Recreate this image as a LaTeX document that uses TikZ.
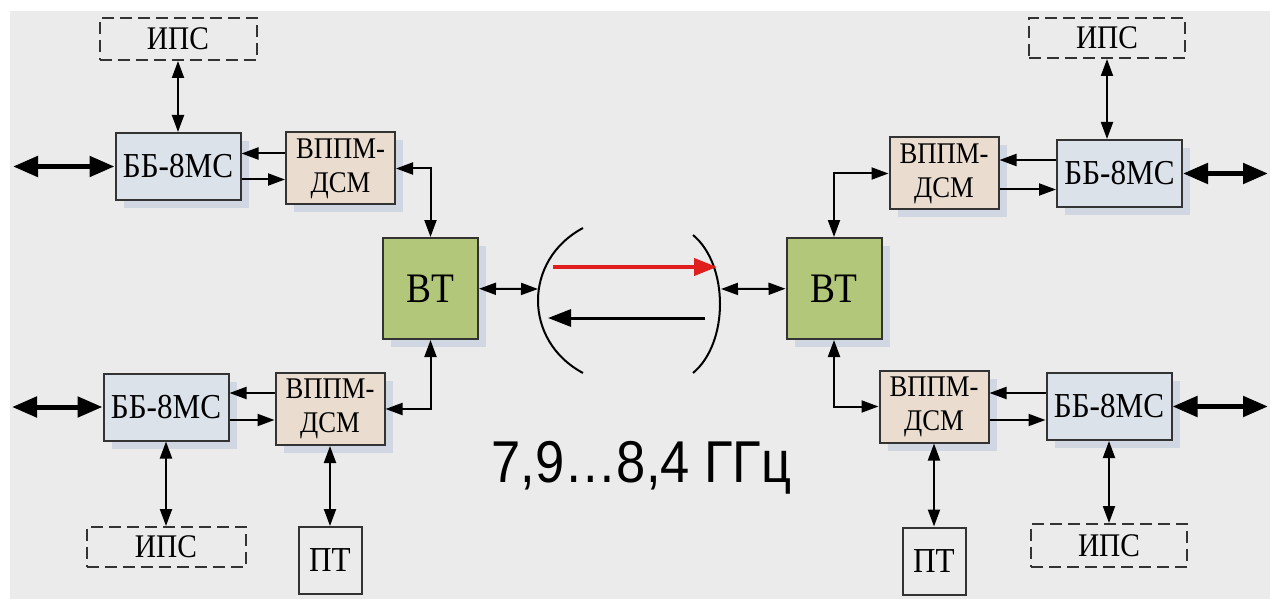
\documentclass[tikz,border=0pt]{standalone}
\usepackage{fontspec}
\usepackage{graphicx}
\setmainfont{Liberation Serif}
\newfontfamily\freqfont{Liberation Sans}
\usetikzlibrary{arrows.meta, positioning, shadows}

\definecolor{bggray}{HTML}{EBEBEB}
\definecolor{bbfill}{HTML}{DCE2EA}
\definecolor{vpfill}{HTML}{EADDD0}
\definecolor{btfill}{HTML}{B2C77A}
\definecolor{shade}{HTML}{CAD3E1}
\definecolor{edge}{HTML}{333333}
\definecolor{beamred}{HTML}{E01E1E}

% narrow the lettering a little, as in the original drawing
\newcommand{\sq}[1]{\scalebox{0.89}[1]{#1}}

\begin{document}
\begin{tikzpicture}[
  x=1pt, y=-1pt,
  >={Triangle[length=17pt, width=12pt]},
  box/.style={rectangle, draw=edge, line width=2pt, inner sep=0pt, text centered, drop shadow={shadow xshift=8pt, shadow yshift=-8pt, fill=shade, opacity=0.8}},
  bbbox/.style={box, fill=bbfill, minimum width=125pt, minimum height=67pt, font=\fontsize{35}{37}\selectfont},
  vpbox/.style={box, fill=vpfill, minimum width=109pt, minimum height=72pt, align=center, font=\fontsize{30}{34}\selectfont},
  btbox/.style={box, fill=btfill, minimum width=95pt, minimum height=101pt, font=\fontsize{42}{44}\selectfont},
  ptbox/.style={rectangle, draw=edge, line width=2pt, fill=bggray, inner sep=0pt, minimum width=63pt, minimum height=67pt, font=\fontsize{35}{37}\selectfont},
  ipsbox/.style={rectangle, draw=edge, dashed, dash pattern=on 12pt off 6pt, line width=2pt, inner sep=0pt, minimum width=157pt, minimum height=42pt, font=\fontsize{33}{35}\selectfont},
  arr/.style={->, line width=2pt},
  arrboth/.style={<->, line width=2pt},
  bigarr/.style={{Triangle[length=25pt, width=20pt]}-{Triangle[length=25pt, width=20pt]}, line width=5pt},
  bracket/.style={line width=2pt, draw=black}
]
\useasboundingbox (0,0) rectangle (1270,599);
\fill[white] (0,0) rectangle (1270,599);
\fill[bggray] (10,11) rectangle (1270,599);

% Left side, upper branch
\node[ipsbox] (ipsLT) at (178,39) {\sq{ИПС}};
\node[bbbox] (bbLT) at (178,166.5) {\sq{ББ-8МС}};
\node[vpbox] (vpLT) at (340.5,168.5) {\sq{ВППМ-}\\\sq{ДСМ}};
\node[btbox] (btL) at (430.5,288.5) {\sq{ВТ}};

% Left side, lower branch
\node[bbbox] (bbLB) at (166,407) {\sq{ББ-8МС}};
\node[vpbox] (vpLB) at (330,409) {\sq{ВППМ-}\\\sq{ДСМ}};
\node[ipsbox, minimum width=159pt, minimum height=40pt] (ipsLB) at (166,547) {\sq{ИПС}};
\node[ptbox] (ptL) at (330,560.5) {\sq{ПТ}};

% Right side, upper branch
\node[btbox] (btR) at (834,288.5) {\sq{ВТ}};
\node[vpbox] (vpRT) at (944,173.5) {\sq{ВППМ-}\\\sq{ДСМ}};
\node[bbbox] (bbRT) at (1119.5,173.5) {\sq{ББ-8МС}};
\node[ipsbox, minimum width=156pt, minimum height=40pt] (ipsRT) at (1107,38) {\sq{ИПС}};

% Right side, lower branch
\node[vpbox] (vpRB) at (934,406.5) {\sq{ВППМ-}\\\sq{ДСМ}};
\node[bbbox] (bbRB) at (1109,406.5) {\sq{ББ-8МС}};
\node[ptbox] (ptR) at (934,561) {\sq{ПТ}};
\node[ipsbox, minimum width=156pt, minimum height=43pt] (ipsRB) at (1109,545.5) {\sq{ИПС}};

% Radio link
\draw[bracket] (583,228) .. controls (523,260) and (523,341) .. (583,373);
\draw[bracket] (693,235) .. controls (729,265) and (729,343) .. (693,373);
\coordinate (brL) at (538,289);
\coordinate (brR) at (721,289);
\coordinate (redA) at (553,267);
\coordinate (redB) at (717,267);
\coordinate (blkA) at (705,318);
\coordinate (blkB) at (548,318);
\draw[-{Triangle[length=23pt, width=17pt]}, line width=4pt, beamred] (redA) -- (redB);
\draw[-{Triangle[length=23pt, width=17pt]}, line width=3pt] (blkA) -- (blkB);

\node[font=\freqfont\fontsize{59}{62}\selectfont, anchor=base] (freq) at (641.5,482) {\sq{7,9…8,4 ГГц}};

% Free ends of the trunk lines
\coordinate (inLT) at (13,166.5);
\coordinate (inLB) at (12,407);
\coordinate (outRT) at (1268,173.5);
\coordinate (outRB) at (1268,406.5);

% Connections - left
\draw[bigarr] (inLT) -- (bbLT);
\draw[bigarr] (inLB) -- (bbLB);
\draw[arrboth] (ipsLT) -- (bbLT);
\draw[arrboth] (bbLB) -- (ipsLB);
\draw[arrboth] (vpLB) -- (ptL);
\draw[arr] ([yshift=13pt]bbLT.east -| vpLT.west) -- ([yshift=13pt]bbLT.east);
\draw[arr] ([yshift=-13pt]bbLT.east) -- ([yshift=-13pt]bbLT.east -| vpLT.west);
\draw[arr] ([yshift=14pt]bbLB.east -| vpLB.west) -- ([yshift=14pt]bbLB.east);
\draw[arr] ([yshift=-13pt]bbLB.east) -- ([yshift=-13pt]bbLB.east -| vpLB.west);
\draw[arrboth] (vpLT.east) -| (btL.north);
\draw[arrboth] (vpLB.east) -| (btL.south);
\draw[arrboth] (btL) -- (brL);

% Connections - right
\draw[arrboth] (brR) -- (btR);
\draw[arrboth] (btR.north) |- (vpRT.west);
\draw[arrboth] (btR.south) |- (vpRB.west);
\draw[arr] ([yshift=13.5pt]bbRT.west) -- ([yshift=13.5pt]bbRT.west -| vpRT.east);
\draw[arr] ([yshift=-16pt]bbRT.west -| vpRT.east) -- ([yshift=-16pt]bbRT.west);
\draw[arr] ([yshift=13.5pt]bbRB.west) -- ([yshift=13.5pt]bbRB.west -| vpRB.east);
\draw[arr] ([yshift=-13.5pt]bbRB.west -| vpRB.east) -- ([yshift=-13.5pt]bbRB.west);
\draw[arrboth] (ipsRT.south) -- (ipsRT.south |- bbRT.north);
\draw[arrboth] (bbRB) -- (ipsRB);
\draw[arrboth] (vpRB) -- (ptR);
\draw[bigarr] (bbRT) -- (outRT);
\draw[bigarr] (bbRB) -- (outRB);

\end{tikzpicture}
\end{document}
